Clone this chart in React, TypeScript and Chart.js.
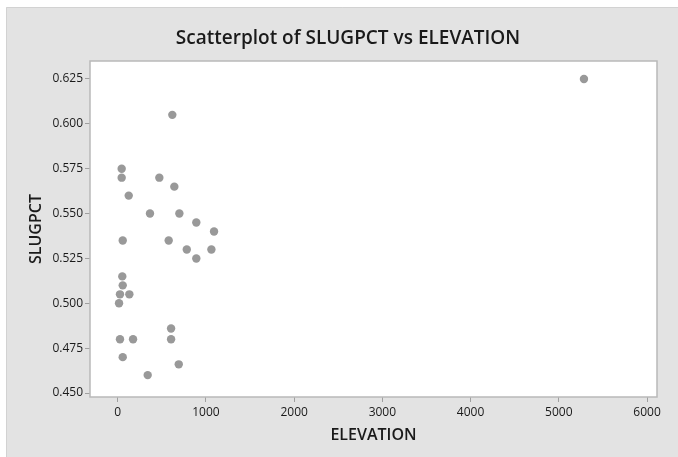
import React, { useEffect, useRef } from "react";
import { Chart, registerables } from "chart.js";

Chart.register(...registerables);

const titleText = "Scatterplot of SLUGPCT vs ELEVATION";
const xTitle = "ELEVATION";
const yTitle = "SLUGPCT";

const elevation = [
  619, 45, 45, 472, 642, 125, 366, 699, 891, 1092, 57, 578, 783, 1062, 891,
  52, 57, 26, 132, 15, 605, 26, 174, 605, 57, 692, 340, 5285,
];
const slugpct = [
  0.605, 0.575, 0.57, 0.57, 0.565, 0.56, 0.55, 0.55, 0.545, 0.54, 0.535, 0.535,
  0.53, 0.53, 0.525, 0.515, 0.51, 0.505, 0.505, 0.5, 0.486, 0.48, 0.48, 0.48,
  0.47, 0.466, 0.46, 0.625,
];

const xTicks = [0, 1000, 2000, 3000, 4000, 5000, 6000];
const yTicks = [0.45, 0.475, 0.5, 0.525, 0.55, 0.575, 0.6, 0.625];

const FONT = "'Open Sans', 'Noto Sans', sans-serif";

const framePlugin = {
  id: "frame",
  beforeDraw(chart: any) {
    const { ctx, chartArea } = chart;
    ctx.save();
    ctx.fillStyle = "#ffffff";
    ctx.fillRect(0, 0, chart.width, chart.height);
    ctx.fillStyle = "#e3e3e3";
    ctx.fillRect(6, 7, chart.width - 6, chart.height - 7);
    ctx.strokeStyle = "#d2d2d2";
    ctx.lineWidth = 1;
    ctx.beginPath();
    ctx.moveTo(6.5, chart.height);
    ctx.lineTo(6.5, 7.5);
    ctx.lineTo(chart.width, 7.5);
    ctx.stroke();
    ctx.fillStyle = "#ffffff";
    ctx.fillRect(
      chartArea.left,
      chartArea.top,
      chartArea.right - chartArea.left,
      chartArea.bottom - chartArea.top
    );
    ctx.fillStyle = "#1a1a1a";
    ctx.font = `600 19px ${FONT}`;
    ctx.textAlign = "center";
    ctx.textBaseline = "alphabetic";
    ctx.fillText(titleText, 348, 44);
    ctx.restore();
  },
  afterDraw(chart: any) {
    const { ctx, chartArea } = chart;
    ctx.save();
    ctx.strokeStyle = "#b9b9b9";
    ctx.lineWidth = 1.5;
    ctx.strokeRect(
      chartArea.left,
      chartArea.top,
      chartArea.right - chartArea.left,
      chartArea.bottom - chartArea.top
    );
    ctx.restore();
  },
};

export default function App() {
  const ref = useRef<HTMLCanvasElement>(null);
  useEffect(() => {
    document.body.style.margin = "0";
    const canvas = ref.current;
    if (!canvas) return;
    const points = elevation.map((x, i) => ({ x, y: slugpct[i] }));
    const chart = new Chart(canvas, {
      type: "scatter",
      data: {
        datasets: [
          {
            data: points,
            backgroundColor: "#999999",
            borderWidth: 0,
            pointRadius: 4.2,
            pointHoverRadius: 4.2,
          },
        ],
      },
      options: {
        animation: false,
        responsive: false,
        devicePixelRatio: 1,
        layout: { padding: { top: 61, right: 21, left: 0, bottom: 0 } },
        plugins: {
          legend: { display: false },
          tooltip: { enabled: false },
          title: { display: false },
        },
        scales: {
          x: {
            type: "linear",
            min: -314,
            max: 6113,
            afterBuildTicks: (s: any) => {
              s.ticks = xTicks.map((v) => ({ value: v }));
            },
            afterFit: (s: any) => {
              s.height = 60;
            },
            grid: {
              drawOnChartArea: false,
              drawTicks: true,
              tickLength: 5,
              tickColor: "#a0a0a0",
            },
            border: { display: false },
            ticks: {
              color: "#1a1a1a",
              font: { family: FONT, size: 12 },
              padding: 3,
              maxRotation: 0,
              callback: (v: any) => String(v),
            },
            title: {
              display: true,
              text: xTitle,
              color: "#1a1a1a",
              font: { family: FONT, size: 16, weight: "600" },
              padding: { top: 0, bottom: 12 },
            },
          },
          y: {
            type: "linear",
            min: 0.4478,
            max: 0.635,
            afterBuildTicks: (s: any) => {
              s.ticks = yTicks.map((v) => ({ value: v }));
            },
            afterFit: (s: any) => {
              s.width = 90;
            },
            grid: {
              drawOnChartArea: false,
              drawTicks: true,
              tickLength: 5,
              tickColor: "#a0a0a0",
            },
            border: { display: false },
            ticks: {
              color: "#1a1a1a",
              font: { family: FONT, size: 12 },
              padding: 2,
              callback: (v: any) => Number(v).toFixed(3),
            },
            title: {
              display: true,
              text: yTitle,
              color: "#1a1a1a",
              font: { family: FONT, size: 16, weight: "600" },
              padding: { top: 27, bottom: 0 },
            },
          },
        },
      },
      plugins: [framePlugin],
    });
    return () => chart.destroy();
  }, []);
  return <canvas ref={ref} width={678} height={457} style={{ display: "block" }} />;
}
